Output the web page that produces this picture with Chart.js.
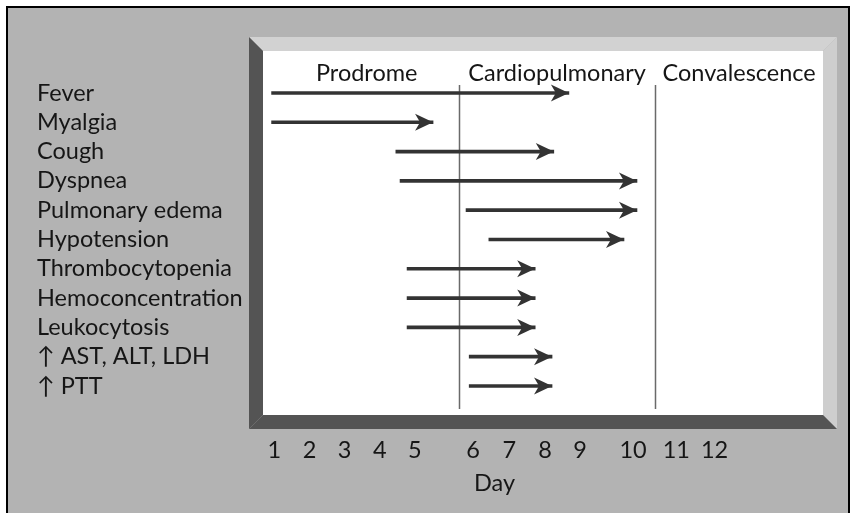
<!DOCTYPE html>
<html><head><meta charset="utf-8">
<script src="https://cdn.jsdelivr.net/npm/chart.js@4.4.1/dist/chart.umd.min.js"></script>
<style>html,body{margin:0;padding:0;background:#fff;overflow:hidden}</style>
</head><body>
<canvas id="c" width="856" height="513"></canvas>
<script>
// ---- data ----
const findings = ['Fever','Myalgia','Cough','Dyspnea','Pulmonary edema','Hypotension',
  'Thrombocytopenia','Hemoconcentration','Leukocytosis','\u2191 AST, ALT, LDH','\u2191 PTT'];
// start / end of each arrow, in x-axis units (same units as dayTickAt)
const onset = [0.92, 0.92, 4.46, 4.58, 6.46, 7.11, 4.78, 4.78, 4.78, 6.55, 6.55];
const until = [9.39, 5.52, 8.96, 11.33, 11.33, 10.96, 8.43, 8.43, 8.43, 8.91, 8.91];
const dayLabels = ['1','2','3','4','5','6','7','8','9','10','11','12'];
const dayTickAt = [1, 2, 3, 4, 5, 6.66, 7.69, 8.71, 9.71, 11.22, 12.45, 13.54];
const phaseNames = ['Prodrome','Cardiopulmonary','Convalescence'];
const phaseBounds = [6.26, 11.85];
const axisTitle = 'Day';

const FONT = 'Lato';
const FSIZE = 23.5;
const TXT = '#161616';

const diagram = {
  id: 'diagram',
  beforeDraw(chart) {
    const {ctx, chartArea: a, scales: {x}} = chart;
    const W = chart.width, H = chart.height, b = 14;
    ctx.save();
    ctx.fillStyle = '#fff'; ctx.fillRect(0, 0, W, H);
    ctx.fillStyle = '#000'; ctx.fillRect(6, 6, 844, H);
    ctx.fillStyle = '#b3b3b3'; ctx.fillRect(8, 8, 840, H);
    const L = a.left, R = a.right, T = a.top, B = a.bottom;
    const poly = (c, pts) => { ctx.fillStyle = c; ctx.beginPath(); pts.forEach((p, i) => i ? ctx.lineTo(p[0], p[1]) : ctx.moveTo(p[0], p[1])); ctx.closePath(); ctx.fill(); };
    poly('#d2d2d2', [[L-b, T-b], [R+b, T-b], [R, T], [L, T]]);
    poly('#cecece', [[R+b, T-b], [R+b, B+b], [R, B], [R, T]]);
    poly('#545454', [[L-b, T-b], [L, T], [L, B], [L-b, B+b]]);
    poly('#545454', [[L-b, B+b], [L, B], [R, B], [R+b, B+b]]);
    ctx.fillStyle = '#fff'; ctx.fillRect(L, T, R-L, B-T);
    // phase boundaries
    ctx.strokeStyle = '#6a6a6a'; ctx.lineWidth = 1.5;
    phaseBounds.forEach(v => {
      const px = Math.round(x.getPixelForValue(v)) + 0.5;
      ctx.beginPath(); ctx.moveTo(px, T + 34); ctx.lineTo(px, B - 6); ctx.stroke();
    });
    // phase names, centred in each phase
    const edges = [x.getPixelForValue(dayTickAt[0])].concat(phaseBounds.map(v => x.getPixelForValue(v)), [R]);
    ctx.fillStyle = TXT; ctx.font = `${FSIZE}px ${FONT}`; ctx.textAlign = 'center'; ctx.textBaseline = 'middle';
    phaseNames.forEach((n, i) => ctx.fillText(n, (edges[i] + edges[i+1]) / 2, T + 22));
    ctx.restore();
  },
  afterDatasetsDraw(chart) {
    const {ctx} = chart;
    ctx.save(); ctx.fillStyle = '#333';
    chart.getDatasetMeta(0).data.forEach(el => {
      const tx = el.x, ty = el.y;
      ctx.beginPath();
      ctx.moveTo(tx, ty); ctx.lineTo(tx - 18, ty - 8.5); ctx.lineTo(tx - 13, ty); ctx.lineTo(tx - 18, ty + 8.5);
      ctx.closePath(); ctx.fill();
    });
    ctx.restore();
  },
  afterDraw(chart) {
    const {ctx, scales: {x}} = chart;
    ctx.save(); ctx.fillStyle = TXT; ctx.font = `${FSIZE}px ${FONT}`; ctx.textAlign = 'center'; ctx.textBaseline = 'middle';
    const cx = (x.getPixelForValue(dayTickAt[0]) + x.getPixelForValue(dayTickAt[dayTickAt.length-1])) / 2;
    ctx.fillText(axisTitle, cx, 483);
    ctx.restore();
  }
};

new Chart(document.getElementById('c'), {
  type: 'bar',
  data: { datasets: [{
    data: findings.map((f, i) => ({ y: i, x: [onset[i], until[i]] })),
    backgroundColor: '#333', borderWidth: 0, barThickness: 3
  }]},
  options: {
    indexAxis: 'y', responsive: false, animation: false, devicePixelRatio: 1,
    layout: { padding: { left: 37, top: 51, right: 33, bottom: 0 } },
    plugins: { legend: { display: false }, tooltip: { enabled: false } },
    scales: {
      y: {
        type: 'linear', reverse: true, min: -1.433, max: 10.99, offset: false,
        afterBuildTicks: s => { s.ticks = findings.map((_, i) => ({ value: i })); },
        afterFit: s => { s.width = 226; },
        ticks: { callback: v => findings[v], crossAlign: 'far', autoSkip: false, padding: 0,
                 color: TXT, font: { family: FONT, size: FSIZE } },
        grid: { display: false, drawTicks: false, offset: false }, border: { display: false }
      },
      x: {
        type: 'linear', min: 0.675, max: 16.63, offset: false,
        afterBuildTicks: s => { s.ticks = dayTickAt.map(v => ({ value: v })); },
        afterFit: s => { s.height = 98; },
        ticks: { callback: (v, i) => dayLabels[i], autoSkip: false, maxRotation: 0, padding: 21,
                 color: TXT, font: { family: FONT, size: FSIZE } },
        grid: { display: false, drawTicks: false }, border: { display: false }
      }
    }
  },
  plugins: [diagram]
});
</script>
</body></html>
